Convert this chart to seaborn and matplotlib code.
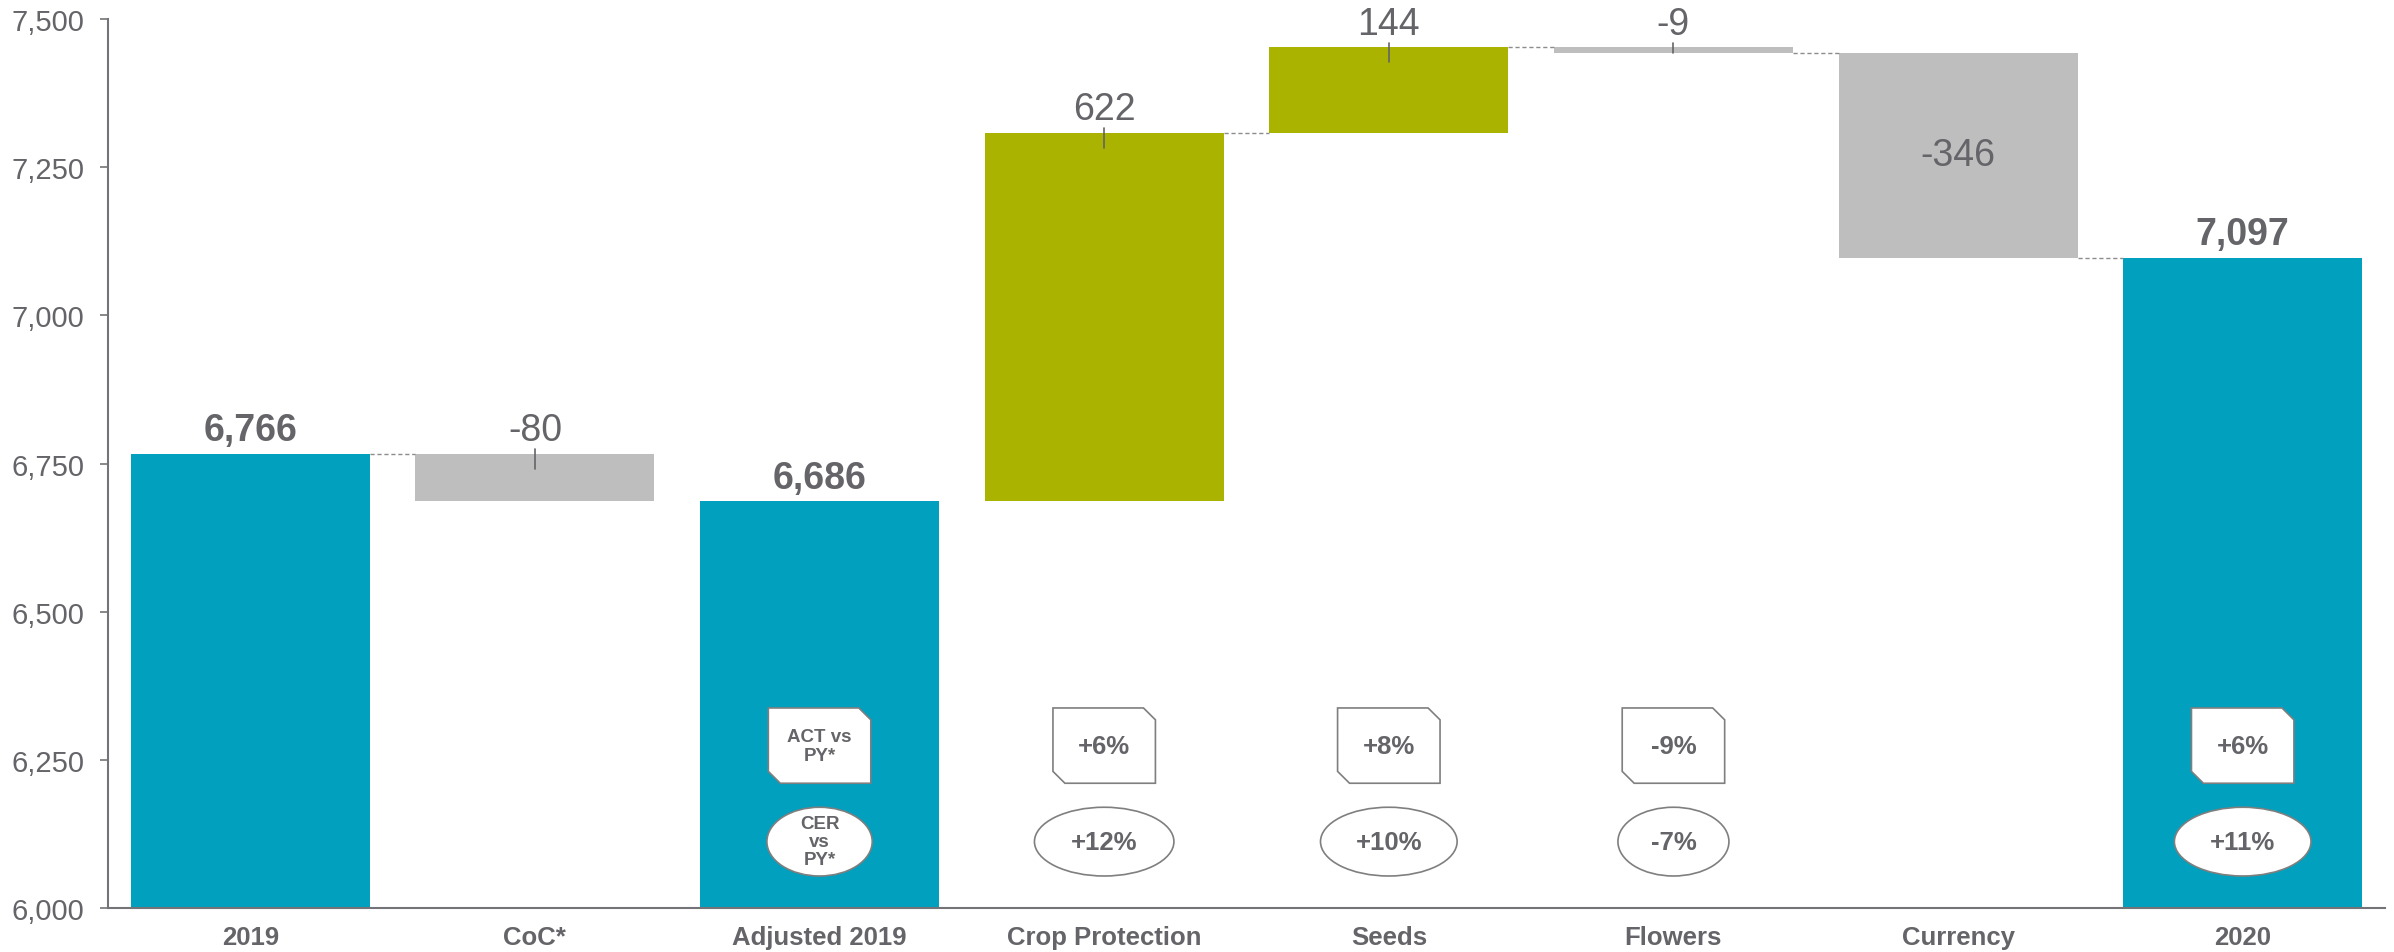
import matplotlib
matplotlib.use("Agg")
import matplotlib.pyplot as plt
from matplotlib.patches import Ellipse, Polygon
import numpy as np
import pandas as pd
import seaborn as sns

categories = ["2019", "CoC*", "Adjusted 2019", "Crop Protection", "Seeds", "Flowers", "Currency", "2020"]
is_total = [True, False, True, False, False, False, False, True]
values = [6766, -80, 6686, 622, 144, -9, -346, 7097]
value_labels = ["6,766", "-80", "6,686", "622", "144", "-9", "-346", "7,097"]
act_vs_py = [None, None, "ACT vs\nPY*", "+6%", "+8%", "-9%", None, "+6%"]
cer_vs_py = [None, None, "CER\nvs\nPY*", "+12%", "+10%", "-7%", None, "+11%"]
yticks = [6000, 6250, 6500, 6750, 7000, 7250, 7500]
ytick_labels = ["6,000", "6,250", "6,500", "6,750", "7,000", "7,250", "7,500"]
# connectors drawn after these bars (dashed line to the next bar)
links = [0, 3, 4, 5, 6]

TEAL = "#00A0BE"
OLIVE = "#AAB400"
GREY = "#BEBEBE"
TXT = "#646469"
NARROW = ["Liberation Sans Narrow", "Liberation Sans", "DejaVu Sans"]
REG = ["Liberation Sans", "Arial", "DejaVu Sans"]

sns.set_style("white")
plt.rcParams["font.family"] = REG

# running totals for the waterfall
bottoms, tops, running = [], [], 0
for v, tot in zip(values, is_total):
    if tot:
        bottoms.append(0)
        tops.append(v)
        running = v
    else:
        lo, hi = sorted([running, running + v])
        bottoms.append(lo)
        tops.append(hi)
        running += v

colors = [TEAL if t else (OLIVE if v > 0 else GREY) for v, t in zip(values, is_total)]
df = pd.DataFrame({"cat": categories, "top": tops})

fig = plt.figure(figsize=(23.94, 9.53), dpi=100)
ax = fig.add_axes([108 / 2394, 1 - 909 / 953, (2385 - 108) / 2394, (909 - 20) / 953])
sns.barplot(data=df, x="cat", y="top", hue="cat", palette=colors, legend=False,
            width=0.84, saturation=1, ax=ax, linewidth=0)

for i, p in enumerate(ax.patches):
    p.set_y(bottoms[i])
    p.set_height(tops[i] - bottoms[i])

ax.set_ylim(6000, 7500)
ax.set_xlim(-0.5, len(categories) - 0.5)
ax.set_yticks(yticks)
ax.set_yticklabels(ytick_labels, fontsize=21, color=TXT, family=REG)
ax.set_xticks(range(len(categories)))
ax.set_xticklabels(categories, fontsize=18.5, color=TXT, fontweight="bold", family=NARROW)
ax.tick_params(axis="y", length=6, width=1.2, color="#747478", pad=11, left=True)
ax.tick_params(axis="x", length=0, pad=12)
ax.set_xlabel("")
ax.set_ylabel("")
for s in ["top", "right"]:
    ax.spines[s].set_visible(False)
for s in ["left", "bottom"]:
    ax.spines[s].set_color("#747478")
    ax.spines[s].set_linewidth(1.5)

w = 0.84
# connectors
for i in links:
    level = tops[i] if (is_total[i] or values[i] > 0) else bottoms[i]
    ax.plot([i + w / 2, i + 1 - w / 2], [level, level], color="#8c8c8c",
            lw=1, ls=(0, (3, 2)), zorder=1)

# value labels
for i, (v, lab) in enumerate(zip(values, value_labels)):
    if is_total[i]:
        ax.annotate(lab, (i, tops[i]), xytext=(0, 10), textcoords="offset points",
                    ha="center", va="baseline", fontsize=27, fontweight="bold",
                    color=TXT, family=NARROW)
    elif abs(v) > 200 and v < 0:
        ax.text(i, (tops[i] + bottoms[i]) / 2, lab, ha="center", va="center",
                fontsize=27, color=TXT, family=NARROW)
    else:
        fam = REG if v > 300 else NARROW
        ax.annotate(lab, (i, tops[i]), xytext=(0, 10), textcoords="offset points",
                    ha="center", va="baseline", fontsize=27, color=TXT, family=fam)
        ax.plot([i, i], [tops[i] + 8, max(tops[i] - 25, bottoms[i])],
                color=TXT, lw=1.2, zorder=3)

# ACT vs PY boxes (snipped corners) and CER vs PY ellipses
bw, bh, cx, cy = 0.36, 127, 0.042, 20
by = 6274
for i, t in enumerate(act_vs_py):
    if t is None:
        continue
    x0, x1 = i - bw / 2, i + bw / 2
    y0, y1 = by - bh / 2, by + bh / 2
    pts = [(x0, y1), (x1 - cx, y1), (x1, y1 - cy), (x1, y0),
           (x0 + cx, y0), (x0, y0 + cy)]
    ax.add_patch(Polygon(pts, closed=True, facecolor="white", edgecolor="#7f7f7f",
                         lw=1.2, zorder=4))
    small = "\n" in t
    ax.text(i, by, t, ha="center", va="center", fontsize=13.5 if small else 18.5,
            fontweight="bold", color=TXT, zorder=5, linespacing=1.15)

ew = [None, None, 0.37, 0.49, 0.48, 0.39, None, 0.48]
ey = 6112
for i, t in enumerate(cer_vs_py):
    if t is None:
        continue
    ax.add_patch(Ellipse((i, ey), ew[i], 116, facecolor="white", edgecolor="#7f7f7f",
                         lw=1.2, zorder=4))
    small = "\n" in t
    ax.text(i, ey, t, ha="center", va="center", fontsize=13.5 if small else 18.5,
            fontweight="bold", color=TXT, zorder=5, linespacing=1.05)

fig.savefig("out.png", dpi=100)
